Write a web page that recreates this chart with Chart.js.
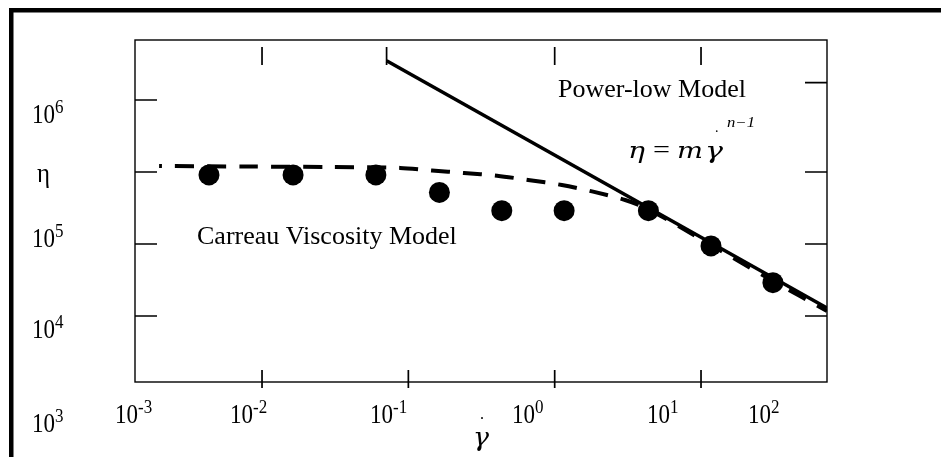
<!DOCTYPE html>
<html>
<head>
<meta charset="utf-8">
<script src="https://cdn.jsdelivr.net/npm/chart.js@4.4.1/dist/chart.umd.min.js"></script>
<style>
  html, body { margin: 0; padding: 0; background: #fff; }
  canvas { display: block; }
</style>
</head>
<body>
<canvas id="chart" width="941" height="457"></canvas>
<script>
// measured viscosity (filled dots)
const shearRate = [0.00434, 0.0163, 0.060, 0.163, 0.435, 1.16, 4.37, 11.7, 31.0];
const viscosity = [9.1e5, 9.1e5, 9.1e5, 5.2e5, 2.9e5, 2.9e5, 2.9e5, 9.4e4, 2.9e4];

// Carreau viscosity model (dashed curve)
const carreauRate = [0.00198, 0.00828, 0.0292, 0.0877, 0.145, 0.240, 0.404, 0.658, 1.12, 1.83, 3.03, 4.34, 11.7, 31.0, 72.6];
const carreauEta  = [1.21e6, 1.19e6, 1.17e6, 1.14e6, 1.05e6, 9.69e5, 8.89e5, 7.74e5, 6.6e5, 5.33e5, 4.08e5, 3.06e5, 9.69e4, 3.06e4, 1.17e4];

// power-law model (solid line)
const powerRate = [0.071, 72.6];
const powerEta  = [3.5e7, 1.29e4];

// axis ticks and labels
const xTicksBottom = [0.01, 0.1, 1, 10];
const xTicksTop    = [0.01, 0.071, 1, 10];
const yTicksLeft   = [1e4, 1e5, 1e6, 1e7];
const yTicksRight  = [1e4, 1e5, 1e6, 1.74e7];
const xTickExp = ['-3', '-2', '-1', '0', '1', '2'];
const yTickExp = ['6', '5', '4', '3'];
const yTitle = 'η';

const SERIF = '"Liberation Serif", "Times New Roman", serif';
const MATH = '"DejaVu Serif", "Liberation Serif", serif';
const zip = (xs, ys) => xs.map((x, i) => ({ x, y: ys[i] }));

// text helpers
function text(ctx, str, x, y, font, sy = 1, align = 'left') {
    ctx.save();
    ctx.translate(x, y);
    ctx.scale(1, sy);
    ctx.font = font;
    ctx.textAlign = align;
    ctx.textBaseline = 'alphabetic';
    ctx.fillText(str, 0, 0);
    ctx.restore();
}

function fitText(ctx, str, x, y, font, width) {
    ctx.save();
    ctx.font = font;
    const w = ctx.measureText(str).width;
    ctx.translate(x, y);
    ctx.scale(width / w, 1);
    ctx.textBaseline = 'alphabetic';
    ctx.fillText(str, 0, 0);
    ctx.restore();
}

function power(ctx, exp, x, baseline) {
    ctx.font = `23px ${SERIF}`;
    const wb = ctx.measureText('10').width;
    text(ctx, '10', x, baseline, `23px ${SERIF}`, 1.17);
    text(ctx, exp, x + wb, baseline - 10, `17px ${SERIF}`, 1.05);
}

const figureDecor = {
    id: 'figureDecor',
    beforeDraw(chart) {
        const ctx = chart.ctx;
        ctx.save();
        ctx.fillStyle = '#fff';
        ctx.fillRect(0, 0, chart.width, chart.height);
        // outer frame (top and left only)
        ctx.fillStyle = '#000';
        ctx.fillRect(9, 8, chart.width - 9, 4.5);
        ctx.fillRect(9, 8, 4.5, chart.height - 8);
        ctx.restore();
    },
    afterDraw(chart) {
        const ctx = chart.ctx;
        const { left, right, top, bottom } = chart.chartArea;
        const xs = chart.scales.x, ys = chart.scales.y;
        ctx.save();
        ctx.strokeStyle = '#000';
        ctx.fillStyle = '#000';

        // plot box
        ctx.lineWidth = 1.4;
        ctx.strokeRect(left, top, right - left, bottom - top);

        // inward tick marks
        ctx.lineWidth = 1.7;
        ctx.beginPath();
        xTicksBottom.forEach(v => {
            const px = xs.getPixelForValue(v);
            ctx.moveTo(px, bottom - 12); ctx.lineTo(px, bottom + 6);
        });
        xTicksTop.forEach(v => {
            const px = xs.getPixelForValue(v);
            ctx.moveTo(px, top + 7); ctx.lineTo(px, top + 25);
        });
        yTicksLeft.forEach(v => {
            const py = ys.getPixelForValue(v);
            ctx.moveTo(left, py); ctx.lineTo(left + 22, py);
        });
        yTicksRight.forEach(v => {
            const py = ys.getPixelForValue(v);
            ctx.moveTo(right - 22, py); ctx.lineTo(right, py);
        });
        ctx.stroke();

        // tick labels, placed as in the original figure
        const xLabelLeft = [-20, 95, 235, 377, 512, 613];
        xTickExp.forEach((e, i) => power(ctx, e, left + xLabelLeft[i], bottom + 41));
        const yLabelBase = [83, 206.5, 298, 391.7];
        yTickExp.forEach((e, i) => power(ctx, e, left - 103, top + yLabelBase[i]));
        fitText(ctx, yTitle, 37, 182, `28px ${SERIF}`, 13);

        // x axis title: gamma with dot
        text(ctx, '.', 480, 419, `16px ${SERIF}`);
        fitText(ctx, 'γ', 473, 446, `italic 26px ${MATH}`, 16);

        // annotations
        text(ctx, 'Power-low Model', 558, 97, `26px ${SERIF}`);
        text(ctx, 'Carreau Viscosity Model', 197, 244, `26px ${SERIF}`);

        // power-law equation
        const eq = `italic 23px ${MATH}`;
        fitText(ctx, 'η', 628, 158, eq, 17);
        fitText(ctx, '=', 653, 157, `24px ${SERIF}`, 17);
        fitText(ctx, 'm', 677, 158, eq, 26);
        fitText(ctx, 'γ', 705, 158, eq, 18);
        text(ctx, '.', 715, 132, `14px ${SERIF}`);
        fitText(ctx, 'n\u22121', 727, 127, `italic 14px ${SERIF}`, 28);

        ctx.restore();
    }
};

new Chart(document.getElementById('chart'), {
    type: 'scatter',
    data: {
        datasets: [
            {
                label: 'Carreau Viscosity Model',
                data: zip(carreauRate, carreauEta),
                showLine: true,
                borderColor: '#000',
                borderWidth: 4,
                borderDash: [19, 13],
                borderDashOffset: 16,
                tension: 0.3,
                pointRadius: 0
            },
            {
                label: 'Power-low Model',
                data: zip(powerRate, powerEta),
                showLine: true,
                borderColor: '#000',
                borderWidth: 3.5,
                pointRadius: 0
            },
            {
                label: 'Measured',
                data: zip(shearRate, viscosity),
                showLine: false,
                pointRadius: 10.5,
                pointBackgroundColor: '#000',
                pointBorderWidth: 0
            }
        ]
    },
    options: {
        responsive: false,
        animation: false,
        layout: { padding: { left: 135, top: 40, right: 114, bottom: 75 } },
        plugins: {
            legend: { display: false },
            tooltip: { enabled: false }
        },
        scales: {
            x: { type: 'logarithmic', min: 1.355e-3, max: 72.6, display: false },
            y: { type: 'logarithmic', min: 1211, max: 6.81e7, display: false }
        }
    },
    plugins: [figureDecor]
});
</script>
</body>
</html>
